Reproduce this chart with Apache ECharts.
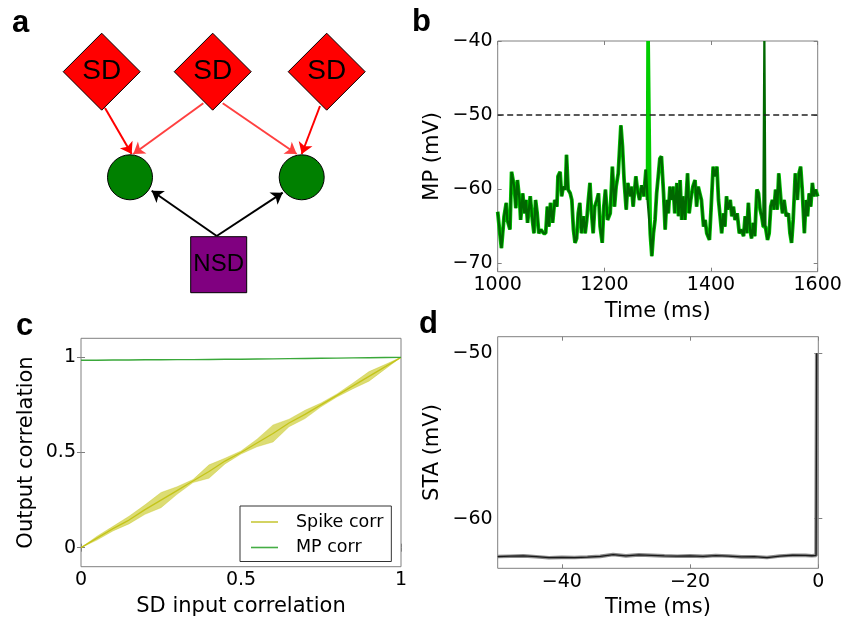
<!DOCTYPE html>
<html>
<head>
<meta charset="utf-8">
<script src="https://cdn.jsdelivr.net/npm/echarts@6/dist/echarts.min.js"></script>
<style>html,body{margin:0;padding:0;background:#fff}#c{width:858px;height:624px}</style>
</head>
<body>
<div id="c"></div>
<script>
// ---------- panel a : schematic ----------
const diagramLabels = ['SD', 'SD', 'SD', '', '', 'NSD'];
const diagramKinds = ['sd', 'sd', 'sd', 'cell', 'cell', 'nsd'];
// node centres in diagram units
const diagramPos = [[101.7, 71.7], [212.7, 71.7], [326.7, 71.7], [130, 177.3], [301.7, 177.3], [218.7, 264.7]];
// arrows: [from, to] in diagram units, kind
const arrowCoords = [
  [[105, 108], [131.7, 154]],
  [[203.3, 103.3], [133.3, 154]],
  [[222.7, 103.3], [296.7, 154]],
  [[320, 106], [301.7, 154]],
  [[216.7, 236], [151.7, 190.7]],
  [[216.7, 236], [282.7, 192.7]]
];
const arrowKinds = ['sd', 'sdMid', 'sdMid', 'sd', 'nsd', 'nsd'];

// ---------- panel b : membrane potential ----------
const mpTrace = [
[1000,-63.1],[1004,-66.0],[1007,-68.0],[1012,-63.7],[1016,-61.9],[1018,-64.2],[1023,-65.5],[1026,-57.7],[1031,-59.7],[1034,-62.6],
[1037,-58.8],[1041,-61.5],[1043,-64.2],[1047,-60.6],[1050,-63.3],[1053,-61.5],[1056,-64.6],[1061,-61.0],[1065,-64.2],[1068,-66.0],
[1071,-61.5],[1074,-63.3],[1077,-66.0],[1081,-65.5],[1086,-66.0],[1090,-66.0],[1093,-62.4],[1096,-65.1],[1099,-61.9],[1103,-64.6],
[1107,-61.5],[1111,-62.4],[1113,-58.3],[1117,-57.7],[1120,-61.0],[1123,-59.7],[1127,-60.1],[1129,-55.4],[1132,-60.1],[1136,-60.6],
[1139,-61.5],[1142,-65.5],[1145,-67.3],[1148,-66.7],[1151,-63.3],[1154,-61.9],[1157,-66.0],[1161,-63.7],[1164,-66.0],[1167,-64.2],
[1170,-61.5],[1173,-59.2],[1176,-63.3],[1179,-66.0],[1182,-62.4],[1186,-61.5],[1189,-60.6],[1192,-65.1],[1196,-67.3],[1199,-62.4],
[1202,-60.1],[1206,-64.2],[1211,-63.3],[1215,-57.0],[1219,-62.4],[1222,-59.7],[1226,-57.9],[1231,-51.4],[1234,-54.3],[1237,-58.8],
[1241,-62.8],[1244,-59.2],[1248,-61.0],[1251,-59.7],[1254,-62.4],[1259,-58.3],[1262,-60.1],[1266,-61.5],[1270,-59.5],[1274,-61.0],
[1278,-57.4],[1281,-61.5],[1286,-66.0],[1289,-69.1],[1292,-66.0],[1295,-64.2],[1298,-60.6],[1301,-58.3],[1304,-55.9],[1307,-55.6],
[1311,-60.6],[1314,-65.5],[1317,-61.5],[1320,-63.3],[1323,-59.7],[1326,-61.5],[1329,-59.7],[1332,-63.3],[1336,-59.2],[1339,-63.7],
[1342,-58.8],[1345,-64.2],[1348,-61.0],[1351,-64.2],[1356,-57.9],[1359,-63.3],[1362,-61.5],[1366,-59.7],[1370,-58.8],[1373,-62.4],
[1376,-59.7],[1379,-60.6],[1382,-61.5],[1386,-65.1],[1389,-64.2],[1392,-66.0],[1397,-66.9],[1400,-62.8],[1404,-57.0],[1407,-58.3],
[1411,-57.0],[1414,-61.5],[1417,-63.7],[1420,-66.0],[1423,-63.3],[1426,-65.1],[1429,-61.0],[1432,-62.8],[1436,-61.5],[1439,-63.7],
[1442,-62.4],[1445,-64.2],[1449,-63.3],[1453,-66.0],[1457,-65.5],[1461,-66.4],[1464,-63.7],[1467,-66.0],[1470,-61.9],[1473,-65.5],
[1476,-66.7],[1479,-64.6],[1482,-66.4],[1486,-60.1],[1489,-60.6],[1492,-62.8],[1495,-63.7],[1498,-65.1],[1502,-65.1],[1506,-66.9],
[1509,-66.0],[1512,-62.4],[1515,-61.5],[1518,-62.8],[1521,-60.1],[1524,-62.8],[1527,-57.9],[1531,-61.5],[1534,-63.3],[1537,-61.5],
[1541,-63.7],[1545,-63.3],[1548,-66.0],[1551,-67.3],[1554,-64.2],[1558,-57.9],[1562,-61.5],[1565,-57.9],[1568,-57.0],[1571,-60.1],
[1575,-66.0],[1578,-61.5],[1581,-63.7],[1584,-60.6],[1587,-62.4],[1590,-59.2],[1593,-61.0],[1596,-60.1],[1600,-61.0]
];
const cell1Spike = [1282, -40];
const cell2Spike = [1500, -40];
const threshold = -50;
const mpTicksX = [1000, 1200, 1400, 1600];
const mpTicksY = [-70, -60, -50, -40];

// ---------- panel c : correlation transfer ----------
const corrX =     [0, 0.05, 0.1, 0.15, 0.2, 0.25, 0.3, 0.35, 0.4, 0.45, 0.5, 0.55, 0.6, 0.65, 0.7, 0.75, 0.8, 0.85, 0.9, 0.95, 1];
const spikeMean = [0, 0.05, 0.1, 0.145, 0.2, 0.25, 0.3, 0.35, 0.4, 0.455, 0.5, 0.55, 0.6, 0.655, 0.7, 0.75, 0.8, 0.85, 0.9, 0.95, 1];
const spikeErr =  [0, 0.01, 0.012, 0.02, 0.025, 0.04, 0.02, 0.008, 0.035, 0.015, 0.008, 0.02, 0.045, 0.02, 0.022, 0.01, 0.008, 0.015, 0.025, 0.012, 0];
const mpCorr =    [0.985, 0.985, 0.986, 0.986, 0.987, 0.987, 0.988, 0.988, 0.989, 0.99, 0.99, 0.991, 0.992, 0.993, 0.994, 0.995, 0.996, 0.997, 0.998, 0.999, 1.0];
const corrTicks = [0, 0.5, 1];

// ---------- panel d : spike-triggered average ----------
const staTrace = [[-50,-62.29],[-48,-62.27],[-46,-62.25],[-44,-62.30],[-42,-62.36],[-40,-62.34],[-38,-62.35],[-36,-62.32],[-34,-62.28],[-32,-62.17],
[-30,-62.25],[-28,-62.19],[-26,-62.22],[-24,-62.25],[-22,-62.27],[-20,-62.25],[-18,-62.28],[-16,-62.23],[-14,-62.26],[-12,-62.31],
[-10,-62.30],[-8,-62.35],[-6,-62.26],[-4,-62.21],[-2,-62.22],[-1,-62.24],[-0.35,-62.22],[-0.25,-50]];
const staTicksX = [-40, -20, 0];
const staTicksY = [-60, -50];

// ================= chart =================
const FONT = 'DejaVu Sans';
const FRAME = '#808080';
const minus = v => String(v).replace('-', '\u2212');

function frameAxes(gi, xr, xt, yr, yt, xname, yname, xGap, yGap) {
  const tick = { inside: true, length: 4, lineStyle: { color: FRAME, width: 1 } };
  const lab = { fontSize: 19, fontFamily: FONT, color: '#000', formatter: minus };
  const nameStyle = { fontSize: 21, fontFamily: FONT, color: '#000' };
  const base = { type: 'value', gridIndex: gi, axisLine: { show: false }, splitLine: { show: false } };
  return {
    x: [
      Object.assign({}, base, { min: xr[0], max: xr[1], position: 'bottom',
        axisTick: Object.assign({ customValues: xt }, tick),
        axisLabel: Object.assign({ customValues: xt, margin: 4 }, lab),
        name: xname, nameLocation: 'middle', nameGap: xGap, nameTextStyle: nameStyle }),
      Object.assign({}, base, { min: xr[0], max: xr[1], position: 'top',
        axisTick: Object.assign({ customValues: xt }, tick), axisLabel: { show: false } })
    ],
    y: [
      Object.assign({}, base, { min: yr[0], max: yr[1], position: 'left',
        axisTick: Object.assign({ customValues: yt }, tick),
        axisLabel: Object.assign({ customValues: yt, margin: 5 }, lab),
        name: yname, nameLocation: 'middle', nameGap: yGap, nameTextStyle: nameStyle }),
      Object.assign({}, base, { min: yr[0], max: yr[1], position: 'right',
        axisTick: Object.assign({ customValues: yt }, tick), axisLabel: { show: false } })
    ]
  };
}

const fb = frameAxes(1, [1000, 1600], mpTicksX, [-71.2, -40], mpTicksY, 'Time (ms)', 'MP (mV)', 29, 55);
const fc = frameAxes(2, [0, 1], corrTicks, [-0.1, 1.1], corrTicks, 'SD input correlation', 'Output correlation', 29, 44);
const fd = frameAxes(3, [-50, 0], staTicksX, [-63, -49], staTicksY, 'Time (ms)', 'STA (mV)', 29, 55);

const gridStyle = { show: true, borderColor: FRAME, borderWidth: 1, containLabel: false };

function withSpike(trace, spike) {
  const d = trace.slice();
  d.push(spike);
  d.sort((a, b) => a[0] - b[0]);
  return d;
}

// diagram nodes
const nodeStyle = {
  sd:   { symbol: 'diamond', symbolSize: 77, color: '#ff0000', fontSize: 28 },
  cell: { symbol: 'circle', symbolSize: 45, color: '#008000', fontSize: 20 },
  nsd:  { symbol: 'rect', symbolSize: 56, color: '#800080', fontSize: 24 }
};
const nodeData = diagramPos.map((p, i) => {
  const s = nodeStyle[diagramKinds[i]];
  return {
    value: p, symbol: s.symbol, symbolSize: s.symbolSize,
    itemStyle: { color: s.color, borderColor: '#000', borderWidth: 1, opacity: 1 },
    label: { show: diagramLabels[i] !== '', formatter: diagramLabels[i], position: 'inside',
      fontSize: s.fontSize, fontFamily: 'Liberation Sans', color: '#000' }
  };
});
const arrowColor = { sd: '#ff0000', sdMid: '#ff4040', nsd: '#000000' };
const arrowData = arrowCoords.map((c, i) => ({
  coords: c, lineStyle: { color: arrowColor[arrowKinds[i]], width: 2, opacity: 1 }
}));

const bandData = corrX.map((x, i) => [x, spikeMean[i] - spikeErr[i], spikeMean[i] + spikeErr[i]]);

const option = {
  animation: false,
  backgroundColor: '#fff',
  grid: [
    { left: 0, top: 0, width: 400, height: 310, show: false },
    Object.assign({ left: 497.7, top: 41, width: 320, height: 230.7 }, gridStyle),
    Object.assign({ left: 81, top: 338.3, width: 320, height: 228.4 }, gridStyle),
    Object.assign({ left: 497.7, top: 336.7, width: 320.6, height: 231.6 }, gridStyle)
  ],
  xAxis: [{ type: 'value', gridIndex: 0, min: 0, max: 400, show: false }].concat(fb.x, fc.x, fd.x),
  yAxis: [{ type: 'value', gridIndex: 0, min: 0, max: 310, inverse: true, show: false }].concat(fb.y, fc.y, fd.y),
  legend: {
    data: [{ name: 'Spike corr', icon: 'rect' }, { name: 'MP corr', icon: 'rect' }],
    orient: 'vertical', left: 240, top: 506,
    itemWidth: 27, itemHeight: 1.6, itemGap: 7.5,
    padding: [7, 8, 5, 11],
    borderColor: '#333', borderWidth: 1, backgroundColor: '#fff',
    textStyle: { fontSize: 17.5, fontFamily: FONT, color: '#000', padding: [0, 0, 0, 13] },
    selectedMode: false
  },
  graphic: [
    { type: 'text', x: 12, y: 23, style: { text: 'a', font: 'bold 31px "Liberation Sans"', fill: '#000', verticalAlign: 'middle' } },
    { type: 'text', x: 412, y: 22.5, style: { text: 'b', font: 'bold 31px "Liberation Sans"', fill: '#000', verticalAlign: 'middle' } },
    { type: 'text', x: 16, y: 326.5, style: { text: 'c', font: 'bold 31px "Liberation Sans"', fill: '#000', verticalAlign: 'middle' } },
    { type: 'text', x: 419, y: 324.5, style: { text: 'd', font: 'bold 31px "Liberation Sans"', fill: '#000', verticalAlign: 'middle' } }
  ],
  series: [
    // panel a
    { type: 'lines', coordinateSystem: 'cartesian2d', xAxisIndex: 0, yAxisIndex: 0,
      symbol: ['none', 'arrow'], symbolSize: 11, data: arrowData, z: 2, silent: true },
    { type: 'scatter', xAxisIndex: 0, yAxisIndex: 0, data: nodeData, z: 3, silent: true,
      itemStyle: { opacity: 1 } },
    // panel b
    { type: 'line', xAxisIndex: 1, yAxisIndex: 1, showSymbol: false, symbol: 'none',
      data: withSpike(mpTrace, cell1Spike), lineStyle: { color: '#00cc00', width: 3.8 }, z: 2 },
    { type: 'line', xAxisIndex: 1, yAxisIndex: 1, showSymbol: false, symbol: 'none',
      data: withSpike(mpTrace, cell2Spike), lineStyle: { color: '#006800', width: 2.3 }, z: 3 },
    { type: 'line', xAxisIndex: 1, yAxisIndex: 1, showSymbol: false, symbol: 'none',
      data: [[mpTicksX[0], threshold], [mpTicksX[mpTicksX.length - 1], threshold]],
      lineStyle: { color: '#222', width: 1.4, type: [6, 3.5] }, z: 4 },
    // panel c
    { type: 'custom', xAxisIndex: 3, yAxisIndex: 3, data: bandData, z: 1, silent: true,
      renderItem: function (params, api) {
        if (params.dataIndex !== 0) return null;
        const up = bandData.map(d => api.coord([d[0], d[2]]));
        const lo = bandData.map(d => api.coord([d[0], d[1]])).reverse();
        return { type: 'polygon', shape: { points: up.concat(lo) },
          style: { fill: 'rgba(191,191,0,0.55)', stroke: 'rgba(191,191,0,0.55)', lineWidth: 0.5 } };
      } },
    { name: 'Spike corr', type: 'line', xAxisIndex: 3, yAxisIndex: 3, symbol: 'none', showSymbol: false,
      data: corrX.map((x, i) => [x, spikeMean[i]]), lineStyle: { color: '#c4c41a', width: 1.3 }, itemStyle: { color: '#c8c83a' }, z: 2 },
    { name: 'MP corr', type: 'line', xAxisIndex: 3, yAxisIndex: 3, symbol: 'none', showSymbol: false,
      data: corrX.map((x, i) => [x, mpCorr[i]]), lineStyle: { color: '#3aa83a', width: 1.4 }, itemStyle: { color: '#45ad45' }, z: 2 },
    // panel d
    { type: 'line', xAxisIndex: 5, yAxisIndex: 5, symbol: 'none', showSymbol: false,
      data: staTrace, lineStyle: { color: '#8a8a8a', width: 3.6 }, z: 2 },
    { type: 'line', xAxisIndex: 5, yAxisIndex: 5, symbol: 'none', showSymbol: false,
      data: staTrace, lineStyle: { color: '#1a1a1a', width: 1.3 }, z: 3 }
  ]
};

const chart = echarts.init(document.getElementById('c'), null, { renderer: 'canvas' });
chart.setOption(option);
</script>
</body>
</html>
